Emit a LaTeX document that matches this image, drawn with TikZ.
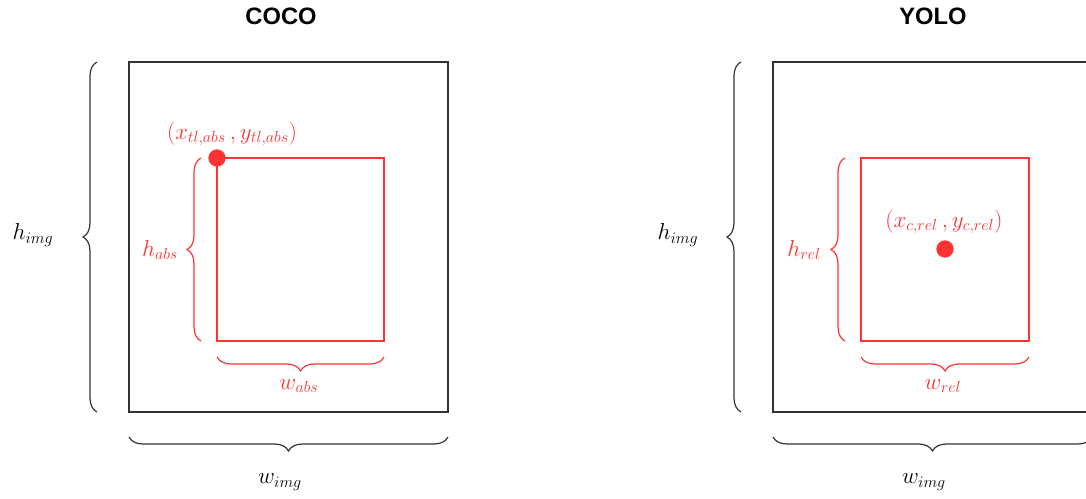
\documentclass[tikz,border=0pt]{standalone}
\usepackage{fontspec}
\newfontfamily\titlefont{Liberation Sans}
\usetikzlibrary{decorations.pathreplacing}
\definecolor{bred}{HTML}{FF3333}
\definecolor{bgray}{HTML}{333333}
\tikzset{
  imgbox/.style={draw=bgray, line width=1.3pt},
  bbox/.style={draw=bred, line width=1.4pt},
  bbrace/.style={draw=bgray, line width=0.9pt, decorate, decoration={brace, amplitude=10.5pt}},
  rbrace/.style={draw=bred, line width=0.9pt, decorate, decoration={brace, amplitude=10.5pt}},
  blabel/.style={text=black, font=\fontsize{18}{21}\selectfont, inner sep=0pt},
  rlabel/.style={text=bred, font=\fontsize{18}{21}\selectfont, inner sep=0pt},
  plabel/.style={text=bred, font=\fontsize{18}{21}\selectfont, inner sep=0pt},
  ttl/.style={font=\titlefont\bfseries\fontsize{17.8}{21}\selectfont, inner sep=0pt},
  dot/.style={fill=bred, circle, inner sep=0pt, minimum size=13pt}
}
\begin{document}
\begin{tikzpicture}[x=0.75pt, y=-0.75pt]
\useasboundingbox (0,0) rectangle (1086,499);
\clip (0,0) rectangle (1086,499);
% ---------- COCO ----------
\node[ttl] (t1) at (281,16) {COCO};
\coordinate (o1tl) at (129,62);
\coordinate (o1br) at (448,412);
\draw[imgbox] (o1tl) rectangle (o1br);
\coordinate (b1a) at (97,412);
\coordinate (b1b) at (97,62);
\draw[bbrace] (b1a) -- (b1b);
\coordinate (b1c) at (448,437);
\coordinate (b1d) at (129,437);
\draw[bbrace] (b1c) -- (b1d);
\node[blabel] (hi1) at (33,235) {$h_{img}$};
\node[blabel] (wi1) at (280,482) {$w_{img}$};
\coordinate (r1tl) at (217,158);
\coordinate (r1br) at (384,341);
\draw[bbox] (r1tl) rectangle (r1br);
\node[dot] (d1) at (r1tl) {};
\coordinate (rb1a) at (201,341);
\coordinate (rb1b) at (201,158);
\draw[rbrace] (rb1a) -- (rb1b);
\coordinate (rb1c) at (384,357);
\coordinate (rb1d) at (217,357);
\draw[rbrace] (rb1c) -- (rb1d);
\node[rlabel] (ha) at (160,250) {$h_{abs}$};
\node[rlabel] (wa) at (299,386) {$w_{abs}$};
\node[plabel] (p1) at (232,134) {$(x_{tl,abs}\,, y_{tl,abs})$};
% ---------- YOLO ----------
\node[ttl] (t2) at (933,16) {YOLO};
\coordinate (o2tl) at (773,62);
\coordinate (o2br) at (1092,412);
\draw[imgbox] (o2tl) rectangle (o2br);
\coordinate (b2a) at (741,412);
\coordinate (b2b) at (741,62);
\draw[bbrace] (b2a) -- (b2b);
\coordinate (b2c) at (1092,437);
\coordinate (b2d) at (773,437);
\draw[bbrace] (b2c) -- (b2d);
\node[blabel] (hi2) at (678,235) {$h_{img}$};
\node[blabel] (wi2) at (924,482) {$w_{img}$};
\coordinate (r2tl) at (861,158);
\coordinate (r2br) at (1029,341);
\draw[bbox] (r2tl) rectangle (r2br);
\node[dot] (d2) at (945,249) {};
\coordinate (rb2a) at (845,341);
\coordinate (rb2b) at (845,158);
\draw[rbrace] (rb2a) -- (rb2b);
\coordinate (rb2c) at (1029,357);
\coordinate (rb2d) at (861,357);
\draw[rbrace] (rb2c) -- (rb2d);
\node[rlabel] (hr) at (804,250) {$h_{rel}$};
\node[rlabel] (wr) at (943,386) {$w_{rel}$};
\node[plabel] (p2) at (944,222) {$(x_{c,rel}\,, y_{c,rel})$};
\end{tikzpicture}
\end{document}
